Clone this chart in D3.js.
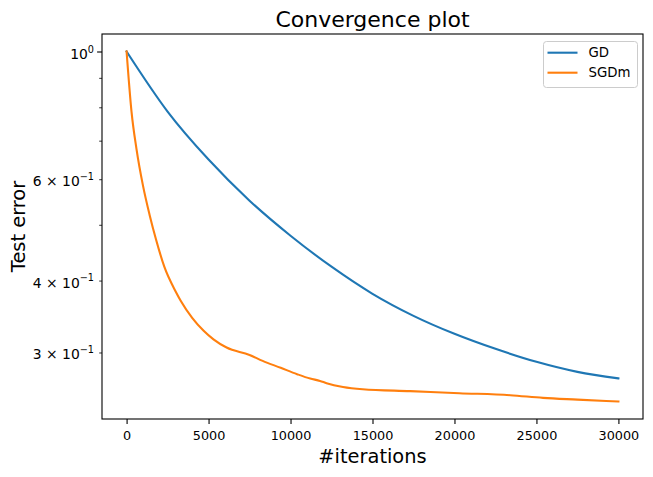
<!DOCTYPE html>
<html>
<head>
<meta charset="utf-8">
<script src="https://cdn.jsdelivr.net/npm/d3@7"></script>
<style>
  body { margin: 0; background: #fff; }
  svg { display: block; font-family: "DejaVu Sans", sans-serif; }
</style>
</head>
<body>
<svg id="chart"></svg>
<script>
// Convergence plot, log y axis
const width = 653;
const height = 477;
const margin = {top: 34, right: 10, bottom: 58, left: 102};

const gdIters = [0, 2500, 5000, 7500, 10000, 12500, 15000, 17500, 20000, 22500, 25000, 27500, 30000];
const gdError = [1.0, 0.7864, 0.649, 0.5506, 0.4786, 0.4228, 0.3794, 0.3474, 0.3233, 0.3044, 0.289, 0.2776, 0.2705];

const sgdIters = [0, 300, 600, 1000, 1400, 1800, 2300, 3000, 3300, 4000, 4700, 5300, 6100, 7500, 8300,
    9400, 10400, 11200, 11800, 12200, 13200, 14400, 17300, 20300, 23400, 25400, 27500, 30000];
const sgdError = [1.0, 0.7864, 0.6781, 0.5847, 0.5206, 0.471, 0.4228, 0.3825, 0.3689, 0.3446, 0.3272, 0.3162, 0.306, 0.2971, 0.2901,
    0.2822, 0.2751, 0.2703, 0.2678, 0.2654, 0.2614, 0.259, 0.257, 0.2549, 0.2529, 0.2502, 0.2485, 0.2466];

const xTicks = [0, 5000, 10000, 15000, 20000, 25000, 30000];
const yMajorTicks = [1];
const yMinorTicks = [0.3, 0.4, 0.5, 0.6, 0.7, 0.8, 0.9];
const yMinorLabels = {0.3: "3", 0.4: "4", 0.6: "6"};

const series = [
    {name: "GD", color: "#1f77b4", x: gdIters, y: gdError},
    {name: "SGDm", color: "#ff7f0e", x: sgdIters, y: sgdError}
];

const svg = d3.select("#chart")
    .attr("width", width)
    .attr("height", height);

const plotW = width - margin.left - margin.right;
const plotH = height - margin.top - margin.bottom;

// matplotlib style 5% margins
const allX = gdIters.concat(sgdIters);
const xMin = d3.min(allX), xMax = d3.max(allX);
const xPad = (xMax - xMin) * 0.05;
const allY = gdError.concat(sgdError);
const lMin = Math.log10(d3.min(allY)), lMax = Math.log10(d3.max(allY));
const lPad = (lMax - lMin) * 0.05;

const x = d3.scaleLinear()
    .domain([xMin - xPad, xMax + xPad])
    .range([margin.left, margin.left + plotW]);

const y = d3.scaleLog()
    .domain([Math.pow(10, lMin - lPad), Math.pow(10, lMax + lPad)])
    .range([margin.top + plotH, margin.top]);

// lines
const line = d3.line()
    .x(d => x(d[0]))
    .y(d => y(d[1]))
    .curve(d3.curveMonotoneX);

svg.selectAll("path.series")
    .data(series)
    .enter().append("path")
    .attr("class", "series")
    .attr("d", s => line(s.x.map((v, i) => [v, s.y[i]])))
    .attr("fill", "none")
    .attr("stroke", s => s.color)
    .attr("stroke-width", 2.1)
    .attr("stroke-linejoin", "round")
    .attr("stroke-linecap", "square");

// x axis
const xAxis = svg.append("g")
    .attr("transform", `translate(0,${margin.top + plotH})`)
    .call(d3.axisBottom(x).tickValues(xTicks).tickFormat(d3.format("d")).tickSize(4.9).tickPadding(7).tickSizeOuter(0));
xAxis.select(".domain").remove();
xAxis.selectAll("line").attr("stroke", "#000").attr("stroke-width", 1.1);
xAxis.selectAll("text").attr("font-size", 12.8).attr("fill", "#000").attr("font-family", "DejaVu Sans");

// y axis: minor ticks
const yMinor = svg.append("g")
    .attr("transform", `translate(${margin.left},0)`)
    .call(d3.axisLeft(y).tickValues(yMinorTicks).tickFormat("").tickSize(2.8).tickSizeOuter(0));
yMinor.select(".domain").remove();
yMinor.selectAll("line").attr("stroke", "#000").attr("stroke-width", 0.8);

const yMajor = svg.append("g")
    .attr("transform", `translate(${margin.left},0)`)
    .call(d3.axisLeft(y).tickValues(yMajorTicks).tickFormat("").tickSize(4.9).tickSizeOuter(0));
yMajor.select(".domain").remove();
yMajor.selectAll("line").attr("stroke", "#000").attr("stroke-width", 1.1);

// y tick labels in math style
const labelX = margin.left - 8;
yMajorTicks.forEach(v => {
    const t = svg.append("text")
        .attr("x", labelX)
        .attr("y", y(v) + 7.5)
        .attr("text-anchor", "end")
        .attr("font-size", 13.9)
        .attr("fill", "#000");
    t.append("tspan").text("10");
    t.append("tspan").attr("font-size", 9.7).attr("dy", -6.5).text(Math.round(Math.log10(v)));
});
Object.entries(yMinorLabels).forEach(([v, m]) => {
    const t = svg.append("text")
        .attr("x", labelX)
        .attr("y", y(+v) + 7)
        .attr("text-anchor", "end")
        .attr("font-size", 13.9)
        .attr("fill", "#000")
        .attr("xml:space", "preserve");
    t.append("tspan").text(m + " \u00d7 10");
    t.append("tspan").attr("font-size", 9.7).attr("dy", -6.5).text("\u22121");
});

// frame
svg.append("rect")
    .attr("x", margin.left)
    .attr("y", margin.top)
    .attr("width", plotW)
    .attr("height", plotH)
    .attr("fill", "none")
    .attr("stroke", "#000")
    .attr("stroke-width", 1.1);

// title and labels
svg.append("text")
    .attr("x", margin.left + plotW / 2)
    .attr("y", 26.5)
    .attr("text-anchor", "middle")
    .attr("font-size", 22)
    .attr("fill", "#000")
    .text("Convergence plot");

svg.append("text")
    .attr("x", margin.left + plotW / 2)
    .attr("y", 463)
    .attr("text-anchor", "middle")
    .attr("font-size", 19.4)
    .attr("fill", "#000")
    .text("#iterations");

svg.append("text")
    .attr("transform", `translate(25,${margin.top + plotH / 2}) rotate(-90)`)
    .attr("text-anchor", "middle")
    .attr("font-size", 19.4)
    .attr("fill", "#000")
    .text("Test error");

// legend
const legend = svg.append("g").attr("transform", "translate(543.5,41.5)");
legend.append("rect")
    .attr("width", 94)
    .attr("height", 46)
    .attr("rx", 3)
    .attr("fill", "#fff")
    .attr("fill-opacity", 0.8)
    .attr("stroke", "#cccccc")
    .attr("stroke-width", 1);

const items = legend.selectAll("g.item")
    .data(series)
    .enter().append("g")
    .attr("class", "item")
    .attr("transform", (d, i) => `translate(0,${11.2 + i * 20})`);
items.append("line")
    .attr("x1", 4).attr("x2", 34)
    .attr("stroke", d => d.color)
    .attr("stroke-width", 2.1);
items.append("text")
    .attr("x", 45)
    .attr("y", 4.7)
    .attr("font-size", 13.3)
    .attr("fill", "#000")
    .text(d => d.name);
</script>
</body>
</html>
